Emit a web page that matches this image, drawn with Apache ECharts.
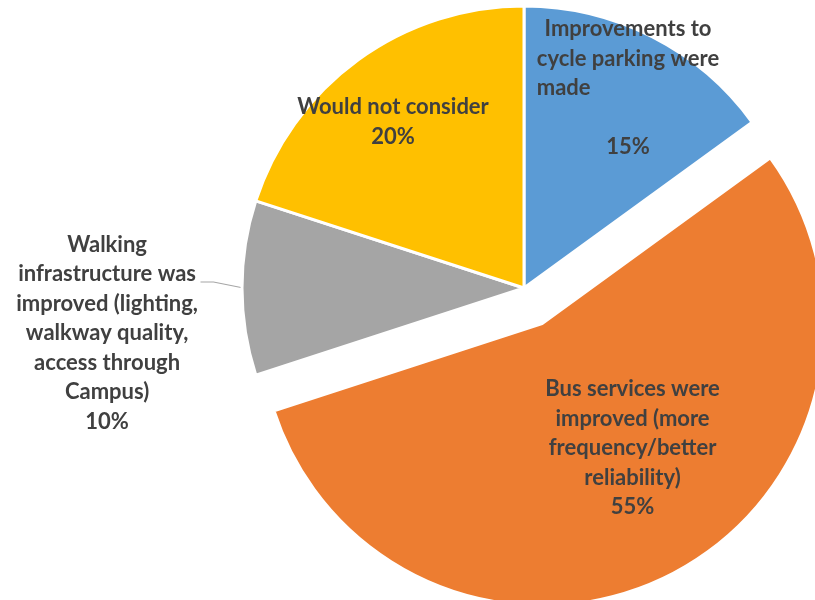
<!DOCTYPE html>
<html>
<head>
<meta charset="utf-8">
<script src="https://cdn.jsdelivr.net/npm/echarts@6/dist/echarts.min.js"></script>
<style>
  html, body { margin: 0; padding: 0; background: #ffffff; }
  #chart { width: 815px; height: 600px; }
</style>
</head>
<body>
<div id="chart"></div>
<script>
// Survey answers: what would make respondents change how they travel
const categories = [
  'Improvements to cycle parking were made',
  'Bus services were improved (more frequency/better reliability)',
  'Walking infrastructure was improved (lighting, walkway quality, access through Campus)',
  'Would not consider'
];
const values = [15, 55, 10, 20];

// Wrapped label text for each slice (one entry per line)
const labelLines = [
  ['Improvements to', 'cycle parking were', 'made', ''],
  ['Bus services were', 'improved (more', 'frequency/better', 'reliability)'],
  ['Walking', 'infrastructure was', 'improved (lighting,', 'walkway quality,', 'access through', 'Campus)'],
  ['Would not consider']
];

const colors = ['#5B9BD5', '#ED7D31', '#A5A5A5', '#FFC000'];

// Pie geometry
const CENTER = [524, 288];
const RADIUS = 282;

// Label anchor points (centre of each text block; right edge for the outside label).
// The exploded slice keeps its own inside position, nudged with padding instead.
const labelAnchors = [[628, 88], null, [198, 333], [393, 122]];
const explodedLabelPadding = [0, 0, 8, 50];
// Leader line for the outside label: bend and end, relative to the slice edge
const leaderBend = [-30, -6];
const leaderTail = [-13, 0];

const chart = echarts.init(document.getElementById('chart'), null, { renderer: 'canvas' });

const textStyle = {
  fontFamily: 'Lato',
  fontWeight: 'bold',
  fontSize: 22,
  color: '#404040',
  lineHeight: 29.5
};

// Mid-angle of each slice (clockwise from 12 o'clock), from the data
const total = values.reduce((s, v) => s + v, 0);
let acc = 0;
const midAngles = values.map(v => {
  const a = (acc + v / 2) / total * 2 * Math.PI;
  acc += v;
  return a;
});

const data = categories.map((name, i) => {
  const item = {
    name: name,
    value: values[i],
    itemStyle: { color: colors[i] }
  };
  if (i === 1) {
    item.selected = true;
    item.label = { padding: explodedLabelPadding };
  }
  if (i === 2) {
    item.label = { position: 'outside' };
    item.labelLine = { show: true, length: 20, length2: 10 };
  }
  return item;
});

chart.setOption({
  animation: false,
  backgroundColor: '#ffffff',
  series: [{
    type: 'pie',
    center: CENTER,
    radius: RADIUS,
    startAngle: 90,
    clockwise: true,
    selectedMode: 'single',
    selectedOffset: 40,
    avoidLabelOverlap: false,
    itemStyle: { borderColor: '#ffffff', borderWidth: 3 },
    emphasis: { disabled: true },
    label: {
      show: true,
      position: 'inside',
      ...textStyle,
      formatter: function (p) {
        const lines = labelLines[p.dataIndex].map(function (t) {
          if (t === '') return '';
          if (p.dataIndex === 0 && t === 'made') return '{l|' + t + '}';
          return '{c|' + t + '}';
        });
        lines.push('{c|' + Math.round(p.percent) + '%}');
        return lines.join('\n');
      },
      rich: {
        c: Object.assign({ align: 'center' }, textStyle),
        l: Object.assign({ align: 'left' }, textStyle)
      }
    },
    labelLine: {
      show: false,
      lineStyle: { color: '#A6A6A6', width: 1.2 }
    },
    labelLayout: function (p) {
      const a = labelAnchors[p.dataIndex];
      if (!a) return {};
      const out = { x: a[0], y: a[1] };
      if (p.dataIndex === 2) {
        const ang = midAngles[p.dataIndex];
        const r = RADIUS - 1.5;
        const start = [CENTER[0] + r * Math.sin(ang), CENTER[1] - r * Math.cos(ang)];
        const bend = [start[0] + leaderBend[0], start[1] + leaderBend[1]];
        const tail = [bend[0] + leaderTail[0], bend[1] + leaderTail[1]];
        out.labelLinePoints = [start, bend, tail];
      }
      return out;
    },
    data: data
  }]
});
</script>
</body>
</html>
